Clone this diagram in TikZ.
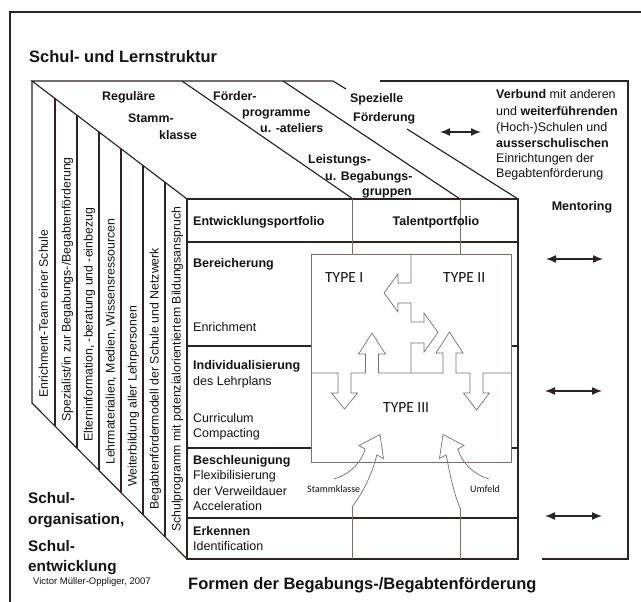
\documentclass[tikz,border=0pt]{standalone}
\usepackage{fontspec}
\setmainfont{Liberation Sans}
\newfontfamily\carl{Carlito}
\usetikzlibrary{arrows.meta}
\definecolor{ink}{RGB}{45,35,35}
\definecolor{txt}{RGB}{22,18,18}
\definecolor{thin}{RGB}{125,110,110}
\newcommand\myfs[1]{\fontsize{#1}{#1}\selectfont}
\begin{document}
\begin{tikzpicture}[x=1pt,y=-1pt,
  edge/.style={draw=ink, line width=1.15pt, line join=miter},
  fine/.style={draw=thin, line width=0.7pt},
  lbl/.style={inner sep=0pt, text=txt, anchor=base west},
  clbl/.style={inner sep=0pt, text=txt, anchor=base},
  head/.style={lbl, font=\myfs{12.4}\bfseries},
  body/.style={lbl, font=\myfs{12.5}},
  strip/.style={lbl, rotate=90, font=\myfs{12.3}},
  big/.style={lbl, font=\myfs{15.3}\bfseries},
  typ/.style={lbl, font=\carl\myfs{15.5}},
  small/.style={lbl, font=\carl\myfs{10}},
  dbl/.style={draw=ink, line width=1.4pt, {Latex[length=10pt,width=8pt]}-{Latex[length=10pt,width=8pt]}}
]
\useasboundingbox (0,0) rectangle (641,602);
\fill[white] (0,0) rectangle (641,602);

% outer frame
\draw[edge] (641,12) -- (10,12) -- (10,602);

% title
\node[lbl, font=\myfs{16.5}\bfseries] (title) at (29,63) {Schul- und Lernstruktur};

% top face
\draw[edge] (187,199) -- (32,81) -- (333,81) -- (346,89);
\draw[edge] (407,129) -- (518,199);
\draw[edge] (182,81) -- (353,199);
\draw[edge] (283,81) -- (460,199);

% left face
\draw[edge] (32,81) -- (32,403) -- (187,559);
\draw[edge] (55,98.5) -- (55,426.1);
\draw[edge] (77,115.3) -- (77,448.3);
\draw[edge] (99,132.0) -- (99,470.4);
\draw[edge] (121,148.8) -- (121,492.6);
\draw[edge] (143,165.5) -- (143,514.7);
\draw[edge] (165,182.3) -- (165,536.9);

% front face
\draw[edge] (187,199) rectangle (518,559);
\draw[edge] (187,242) -- (518,242);
\draw[edge] (187,346) -- (311,346);
\draw[edge] (511,346) -- (518,346);
\draw[edge] (187,448) -- (311,448);
\draw[edge] (511,448) -- (518,448);
\draw[edge] (187,518) -- (518,518);

% right panel
\draw[edge] (380,81) -- (628,81) -- (628,559) -- (542,559);

% thin verticals
\draw[fine] (352,199) -- (352,254);
\draw[fine] (460,199) -- (460,254);
\draw[fine] (352,507) -- (352,559);
\draw[fine] (460,508) -- (460,559);

% TYPE box
\draw[fine] (311,254) rectangle (511,462);
\draw[fine, line join=miter] (411,254) -- (411,283) -- (398,283) -- (398,274) -- (384,293) -- (398,312) -- (398,303) -- (411,303)
  -- (411,322) -- (424,322) -- (424,313) -- (438,332.5) -- (424,352) -- (424,343) -- (411,343) -- (411,373);
\draw[fine, line join=miter] (311,373) -- (338,373) -- (338,393) -- (331.5,393) -- (344.5,409) -- (357.5,393) -- (351,393) -- (351,373)
  -- (365.5,373) -- (365.5,354) -- (358.5,354) -- (372,333) -- (385.5,354) -- (378.5,354) -- (378.5,373)
  -- (443,373) -- (443,353) -- (436,353) -- (449.5,332) -- (463,353) -- (456,353) -- (456,373)
  -- (470,373) -- (470,393) -- (463.5,393) -- (476.5,410) -- (489.5,393) -- (483,393) -- (483,373) -- (511,373);

% curved arrows
\draw[fine, line join=miter] (334,479) .. controls (350,474) and (361,463) .. (365.2,449.1)
  -- (359,445.5) -- (380,434.5) -- (383.5,458.5) -- (376.8,454.9)
  .. controls (372,475) and (362,494) .. (352,507);
\draw[fine, line join=miter] (489,479) .. controls (473,474) and (462,463) .. (457.8,449.1)
  -- (464,445.5) -- (443,434.5) -- (439.5,458.5) -- (446.2,454.9)
  .. controls (450,475) and (454,494) .. (460,508);

% top face labels
\node[head] (reg1) at (102,100.4) {Reguläre};
\node[head] (reg2) at (128,122.4) {Stamm-};
\node[head] (reg3) at (159,139.4) {klasse};
\node[head] (fp1) at (213,100.4) {Förder-};
\node[head] (fp2) at (242,117) {programme};
\node[head] (fp3) at (260,132) {u. -ateliers};
\node[head] (sp1) at (350,102.4) {Spezielle};
\node[head] (sp2) at (353,121.4) {Förderung};
\node[head] (lb1) at (308,163.4) {Leistungs-};
\node[head] (lb2) at (325,180.4) {u. Begabungs-};
\node[head] (lb3) at (362,195.4) {gruppen};

% right panel text
\node[body] (v1) at (496,98.5) {\textbf{Verbund} mit anderen};
\node[body] (v2) at (496,115.3) {und \textbf{weiterführenden}};
\node[body] (v3) at (496,131.3) {(Hoch-)Schulen und};
\node[body] (v4) at (496,147.3) {\textbf{ausserschulischen}};
\node[body] (v5) at (496,162.8) {Einrichtungen der};
\node[body] (v6) at (496,177.8) {Begabtenförderung};
\node[clbl, font=\myfs{12.5}\bfseries] (ment) at (582,210.5) {Mentoring};

% arrows
\coordinate (a1l) at (440,132); \coordinate (a1r) at (481,132);
\coordinate (a2l) at (546,259); \coordinate (a2r) at (603,259);
\coordinate (a3l) at (545,391); \coordinate (a3r) at (602,391);
\coordinate (a4l) at (545,516); \coordinate (a4r) at (602,516);
\draw[dbl] (a1l) -- (a1r);
\draw[dbl] (a2l) -- (a2r);
\draw[dbl] (a3l) -- (a3r);
\draw[dbl] (a4l) -- (a4r);

% front face labels
\node[lbl, font=\myfs{12.5}\bfseries] (ep) at (193,225.5) {Entwicklungsportfolio};
\node[clbl, font=\myfs{12.5}\bfseries] (tp) at (436,225.5) {Talentportfolio};
\node[lbl, font=\myfs{12.5}\bfseries] (ber) at (193,267.5) {Bereicherung};
\node[body] (enr) at (193,331.5) {Enrichment};
\node[lbl, font=\myfs{12.5}\bfseries] (ind) at (193,369.5) {Individualisierung};
\node[body] (lp) at (193,385.5) {des Lehrplans};
\node[body] (cur) at (193,422.5) {Curriculum};
\node[body] (com) at (193,437.5) {Compacting};
\node[lbl, font=\myfs{12.5}\bfseries] (bes) at (193,464.5) {Beschleunigung};
\node[body] (flx) at (193,479.5) {Flexibilisierung};
\node[body] (vwd) at (193,495.5) {der Verweildauer};
\node[body] (acc) at (193,510.5) {Acceleration};
\node[lbl, font=\myfs{12.5}\bfseries] (erk) at (193,535.5) {Erkennen};
\node[body] (idf) at (193,550.5) {Identification};

% TYPE labels
\node[typ] (t1) at (325,282) {TYPE I};
\node[typ] (t2) at (443,282) {TYPE II};
\node[typ] (t3) at (383,412) {TYPE III};
\node[small] (stk) at (307,492.5) {Stammklasse};
\node[small] (umf) at (470,492.5) {Umfeld};

% left face strips
\node[strip] (s1) at (48,398) {Enrichment-Team einer Schule};
\node[strip] (s2) at (70.5,422) {Spezialist/in zur Begabungs-/Begabtenförderung};
\node[strip] (s3) at (92.5,442) {Elterninformation, -beratung und -einbezug};
\node[strip] (s4) at (114.5,465) {Lehrmaterialien, Medien, Wissensressourcen};
\node[strip] (s5) at (136.5,487) {Weiterbildung aller Lehrpersonen};
\node[strip] (s6) at (158.5,510) {Begabtenfördermodell der Schule und Netzwerk};
\node[strip] (s7) at (180.5,532) {Schulprogramm mit potenzialorientiertem Bildungsanspruch};

% bottom left
\node[big] (so1) at (28,503.5) {Schul-};
\node[big] (so2) at (28,524.5) {organisation,};
\node[big] (so3) at (28,551.5) {Schul-};
\node[big] (so4) at (28,571.5) {entwicklung};
\node[lbl, font=\myfs{9.5}] (auth) at (33,584) {Victor Müller-Oppliger, 2007};
\node[lbl, font=\myfs{16.5}\bfseries] (formen) at (188,589) {Formen der Begabungs-/Begabtenförderung};
\end{tikzpicture}
\end{document}
